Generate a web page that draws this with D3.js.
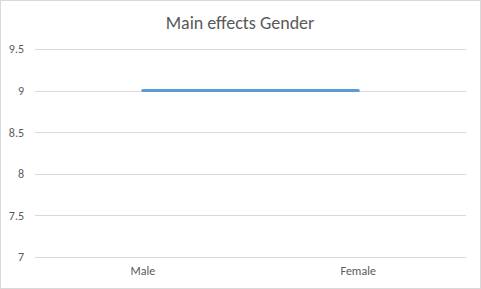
<!DOCTYPE html>
<html><head><meta charset="utf-8">
<script src="https://cdn.jsdelivr.net/npm/d3@7"></script>
<style>body{margin:0;background:#fff}svg{display:block}</style>
</head><body>
<script>
const title = "Main effects Gender";
const categories = ["Male", "Female"];
const values = [9, 9];
const yTicks = [7, 7.5, 8, 8.5, 9, 9.5];

const W = 481, H = 289;
const svg = d3.select("body").append("svg").attr("width", W).attr("height", H);
svg.append("rect").attr("x", 0.5).attr("y", 0.5).attr("width", W - 1).attr("height", H - 1)
  .attr("fill", "#fff").attr("stroke", "#d9d9d9");

const font = "Carlito, 'Open Sans', 'Liberation Sans', sans-serif";
const x = d3.scaleBand().domain(categories).range([35, 466]);
const y = d3.scaleLinear().domain([7, 9.5]).range([257, 49]);

const grid = svg.append("g");
grid.selectAll("line").data(yTicks).join("line")
  .attr("x1", 35).attr("x2", 466)
  .attr("y1", d => Math.round(y(d)) + 0.5).attr("y2", d => Math.round(y(d)) + 0.5)
  .attr("stroke", "#d9d9d9").attr("stroke-width", 1);

const yAxis = svg.append("g").attr("transform", "translate(35,0)")
  .call(d3.axisLeft(y).tickValues(yTicks).tickSize(0).tickPadding(11).tickFormat(d => String(d)));
yAxis.select(".domain").remove();
yAxis.selectAll("text").attr("fill", "#595959").style("font-family", font).style("font-size", "12px");

const xAxis = svg.append("g").attr("transform", "translate(0,257)")
  .call(d3.axisBottom(x).tickSize(0).tickPadding(9));
xAxis.select(".domain").remove();
xAxis.selectAll("text").attr("fill", "#595959").style("font-family", font).style("font-size", "12px");

const line = d3.line().x((d, i) => x(categories[i]) + x.bandwidth() / 2).y(d => y(d));
svg.append("path").datum(values).attr("d", line)
  .attr("fill", "none").attr("stroke", "#5b9bd5").attr("stroke-width", 3).attr("stroke-linecap", "round");

svg.append("text").attr("x", 240).attr("y", 29).attr("text-anchor", "middle")
  .attr("fill", "#595959").style("font-family", font).style("font-size", "18px").text(title);
</script>
</body></html>
